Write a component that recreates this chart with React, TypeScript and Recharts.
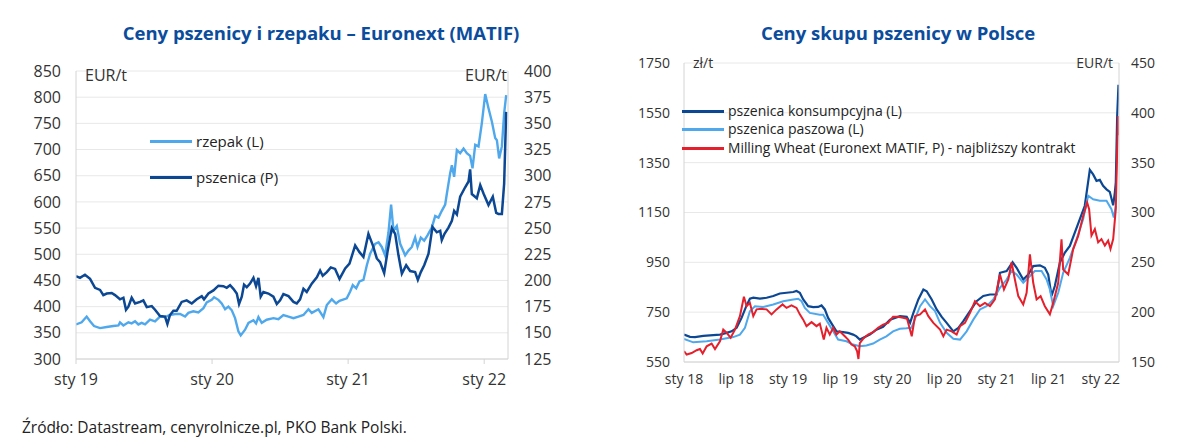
import { LineChart, Line, XAxis, YAxis, CartesianGrid } from "recharts";

const FONT = '"Open Sans", "DejaVu Sans", sans-serif';
const NAVY = "#0c4793";
const SKY = "#4fa8ec";
const RED = "#e3202c";
const TITLE = "#0b4c9c";
const GRID = "#e8e8e8";
const AXIS = "#d4d4d4";
const TXT = "#333";

// ---- Ceny pszenicy i rzepaku (months since sty 19) ----
const euroTicksX = [0, 12, 24, 36];
const euroTickLabels = ["sty 19", "sty 20", "sty 21", "sty 22"];
const rzepakAxis = [300, 350, 400, 450, 500, 550, 600, 650, 700, 750, 800, 850];
const pszenicaAxis = [125, 150, 175, 200, 225, 250, 275, 300, 325, 350, 375, 400];

const rzepakT = [
  0, 0.5, 0.94, 1.24, 1.59, 2.12, 2.71, 3.29, 3.74, 3.88, 4.18, 4.62, 4.91, 5.21, 5.5, 5.79, 6.09, 6.53,
  6.97, 7.41, 7.85, 8.29, 8.74, 9.18, 9.62, 9.91, 10.35, 10.79, 11.24, 11.53, 11.97, 12.18, 12.56, 12.85,
  13.15, 13.44, 13.74, 14.03, 14.32, 14.53, 14.91, 15.21, 15.65, 15.88, 16.09, 16.38, 16.82, 17.41, 17.85,
  18.29, 18.74, 19.18, 19.62, 20.06, 20.5, 20.79, 21.38, 21.82, 22.12, 22.56, 22.94, 23.24, 23.88, 24.18,
  24.41, 24.71, 25.0, 25.35, 25.65, 25.94, 26.38, 26.68, 26.97, 27.26, 27.56, 27.79, 28.0, 28.29, 28.59,
  29.03, 29.32, 29.62, 29.91, 30.12, 30.41, 30.71, 31.0, 31.38, 31.68, 31.97, 32.26, 32.56, 32.71, 33.0,
  33.15, 33.35, 33.59, 33.88, 34.18, 34.47, 34.76, 34.97, 35.21, 35.5, 35.79, 36.09, 36.38, 36.68, 36.97,
  37.12, 37.32, 37.56, 37.76, 37.94,
];
const rzepakV = [
  366, 370, 381, 372, 363, 359, 361, 363, 364, 370, 364, 370, 368, 372, 366, 369, 366, 375,
  372, 381, 380, 384, 386, 386, 381, 388, 391, 389, 397, 408, 413, 418, 413, 406,
  395, 400, 393, 378, 353, 345, 356, 369, 374, 368, 380, 369, 375, 378, 376,
  384, 381, 378, 381, 384, 395, 388, 395, 380, 403, 414, 406, 411, 416, 429,
  441, 435, 448, 451, 479, 501, 520, 523, 514, 498, 542, 595, 545, 554, 520,
  498, 507, 514, 532, 514, 532, 526, 536, 551, 573, 570, 583, 595, 616, 655,
  670, 648, 699, 693, 702, 693, 688, 664, 709, 706, 750, 806, 779, 753, 722,
  718, 683, 706, 769, 804,
];

const pszenicaT = [
  0, 0.35, 0.79, 1.24, 1.68, 2.12, 2.41, 2.71, 3.15, 3.44, 3.88, 4.18, 4.41, 4.62, 4.91, 5.21, 5.65, 5.94,
  6.24, 6.68, 6.97, 7.41, 7.85, 8.06, 8.29, 8.59, 8.88, 9.32, 9.76, 10.21, 10.65, 11.09, 11.29, 11.68,
  12.12, 12.56, 13.0, 13.29, 13.59, 13.88, 14.18, 14.38, 14.62, 14.82, 15.06, 15.35, 15.65, 15.88, 16.09,
  16.29, 16.53, 16.97, 17.41, 17.71, 18.0, 18.29, 18.74, 19.18, 19.47, 19.76, 20.06, 20.35, 20.79, 21.24,
  21.53, 21.76, 22.12, 22.47, 22.85, 23.24, 23.74, 24.12, 24.62, 25.0, 25.35, 25.79, 26.18, 26.53, 26.82,
  27.18, 27.47, 27.85, 28.15, 28.44, 28.74, 29.12, 29.47, 29.91, 30.15, 30.41, 30.71, 31.09, 31.44, 31.82,
  32.12, 32.26, 32.5, 32.85, 33.15, 33.35, 33.59, 33.88, 34.32, 34.62, 34.76, 34.91, 35.35, 35.65, 35.94,
  36.38, 36.76, 37.06, 37.26, 37.56, 37.76, 37.94,
];
const pszenicaV = [
  204, 202.5, 205.5, 201.5, 193, 191, 186, 187.5, 188, 186, 182, 183.5, 172, 175, 183.5, 178, 179.5, 181,
  174.5, 175.5, 172, 166, 165.5, 158.5, 167, 171, 171, 179.5, 181, 178, 182, 185, 182, 187.5,
  190.5, 195, 194.5, 193, 195.5, 192, 187.5, 177.5, 184.5, 196, 193.5, 197, 202.5, 194.5, 202.5,
  184.5, 189, 187.5, 184.5, 177.5, 181, 187, 185, 179.5, 178, 182, 192, 189, 197, 203,
  209.5, 204.5, 208, 212.5, 211, 201.5, 211.5, 216, 233.5, 227, 222.5, 244.5, 233.5, 221, 217.5,
  207, 227, 250, 244.5, 224, 206.5, 214.5, 209, 208, 200.5, 208, 214.5, 225.5, 251, 246,
  247.5, 238.5, 244.5, 250.5, 257, 266.5, 263, 280, 289, 294.5, 306, 282.5, 278.5, 291, 283,
  272, 280, 264.5, 263.5, 263.5, 292.5, 361,
];

// ---- Ceny skupu pszenicy w Polsce (months since sty 18) ----
const plTicksX = [0, 6, 12, 18, 24, 30, 36, 42, 48];
const plTickLabels = ["sty 18", "lip 18", "sty 19", "lip 19", "sty 20", "lip 20", "sty 21", "lip 21", "sty 22"];
const zlAxis = [550, 750, 950, 1150, 1350, 1550, 1750];
const eurAxis = [150, 200, 250, 300, 350, 400, 450];

const konsT = [
  0, 0.69, 1.27, 2.22, 3.37, 4.14, 4.91, 5.48, 6.06, 6.63, 7.21, 7.59, 7.98, 8.74, 9.51, 10.28, 11.04, 11.81,
  12.58, 12.96, 13.34, 13.73, 14.3, 14.88, 15.45, 15.84, 16.22, 16.6, 17.18, 17.56, 18.33, 18.9, 19.48, 19.86,
  20.25, 20.82, 21.4, 22.16, 22.93, 23.73, 24.88, 25.65, 26.04, 26.42, 26.99, 27.57, 27.95, 28.53, 29.1,
  29.68, 30.25, 31.02, 31.6, 32.17, 32.94, 33.7, 34.47, 35.24, 36.0, 36.39, 37.16, 37.84, 38.31, 39.07,
  39.65, 40.22, 40.99, 41.56, 41.95, 42.33, 42.71, 43.29, 43.87, 44.44, 45.02, 45.59, 46.16, 46.74, 47.12,
  47.51, 47.89, 48.27, 48.66, 49.04, 49.43, 49.62, 49.73, 49.89, 50.04,
];
const konsV = [
  660, 651, 650, 655, 658, 660, 667, 673, 687, 727, 777, 804, 808, 804, 808, 815, 825, 828,
  831, 835, 828, 801, 774, 770, 771, 777, 761, 727, 694, 673, 670, 667, 660, 653,
  640, 650, 660, 680, 691, 720, 734, 731, 707, 747, 801, 841, 834, 801, 761,
  731, 707, 673, 687, 714, 754, 794, 815, 821, 821, 908, 915, 951, 928, 881,
  901, 935, 938, 928, 901, 815, 855, 949, 989, 1016, 1070, 1123, 1177, 1321, 1303,
  1277, 1281, 1257, 1243, 1233, 1179, 1230, 1270, 1537, 1663,
];

const paszT = [
  0, 1.07, 2.61, 4.14, 5.67, 6.44, 7.02, 7.59, 8.17, 9.13, 10.28, 11.43, 12.58, 13.15, 13.54, 13.92, 14.49,
  15.64, 16.03, 16.6, 17.18, 17.75, 18.71, 19.48, 20.25, 21.01, 21.78, 22.55, 23.31, 24.08, 24.85, 25.61,
  26.19, 26.42, 27.19, 27.76, 28.34, 28.91, 29.49, 30.25, 31.02, 31.79, 32.55, 33.32, 34.09, 34.85, 35.62,
  36.39, 37.16, 37.73, 38.31, 39.07, 39.65, 40.41, 41.18, 41.76, 42.14, 42.52, 43.1, 43.67, 44.44, 45.21,
  45.97, 46.55, 47.12, 47.89, 48.66, 49.23, 49.5, 49.73,
];
const paszV = [
  643, 629, 633, 640, 650, 660, 687, 754, 774, 771, 781, 794, 801, 804, 794, 767, 747,
  740, 740, 707, 673, 640, 633, 620, 613, 616, 624, 640, 653, 673, 683, 685,
  687, 707, 774, 801, 774, 754, 707, 667, 643, 640, 673, 720, 761, 774, 801,
  848, 881, 915, 901, 868, 888, 915, 915, 881, 841, 774, 828, 908, 968, 1042,
  1123, 1217, 1203, 1197, 1197, 1163, 1130, 1177,
];

const millT = [
  0, 0.31, 0.88, 1.46, 1.84, 2.15, 2.61, 3.18, 3.57, 4.14, 4.52, 4.91, 5.37, 5.87, 6.44, 6.9, 7.21, 7.59,
  7.98, 8.36, 8.93, 9.51, 10.08, 10.66, 11.35, 11.81, 12.38, 12.96, 13.34, 13.73, 14.11, 14.69, 15.26,
  15.64, 16.1, 16.41, 16.79, 17.18, 17.56, 17.94, 18.52, 18.9, 19.29, 19.67, 19.94, 20.09, 20.25, 20.63,
  21.2, 21.78, 22.35, 22.93, 23.5, 24.08, 24.65, 25.23, 25.69, 26.23, 26.61, 27.19, 27.76, 28.14, 28.72,
  29.49, 29.87, 30.25, 30.83, 31.4, 31.79, 32.36, 32.94, 33.51, 34.09, 34.66, 35.24, 35.81, 36.39, 36.85,
  37.35, 37.73, 38.11, 38.5, 39.07, 39.46, 39.84, 40.22, 40.61, 41.07, 41.56, 42.14, 42.52, 43.1, 43.48,
  43.67, 44.25, 44.82, 45.4, 45.97, 46.43, 46.66, 46.93, 47.32, 47.7, 48.08, 48.47, 48.85, 49.12, 49.43,
  49.73, 49.89, 50.0, 50.05,
];
const millV = [
  160.8, 157.5, 159, 161.8, 163, 158.5, 165.8, 168.5, 163, 170.8, 182.5, 179.3, 174.3, 182.5, 196, 215.5, 206, 209.3,
  196, 202.8, 203.3, 202.8, 197.8, 202.8, 207.8, 204.3, 206.8, 204.3, 197.8, 192.5, 186, 190, 186,
  188.5, 172.5, 184.3, 177.5, 184.3, 177.5, 180.8, 175.8, 172.5, 167.5, 165.8, 160.8, 153, 169, 173.3,
  177.5, 179.9, 184.3, 187.5, 189.3, 195.3, 195.3, 194.3, 193.3, 175.8, 196, 197.8, 202.8, 196, 189.3,
  182.5, 175.8, 182.5, 180.8, 177.5, 186, 189.3, 199.3, 211, 206, 209.3, 206, 212.8, 237.8, 222.8,
  232.8, 249.8, 232.8, 216.1, 207.8, 219.5, 258, 229.5, 212.8, 216.1, 206, 197.8, 209.3, 229.5, 273,
  242.8, 237.8, 263, 276.5, 296.5, 310, 303.3, 276.8, 283.3, 270, 273.3, 266.8, 271.8, 263.3, 273.3,
  303.3, 363.3, 396.8, 377.5,
];

const pairs = (ts: number[], vs: number[]) => ts.map((t, i) => ({ t, v: vs[i] }));

const rzepakData = pairs(rzepakT, rzepakV);
const pszenicaData = pairs(pszenicaT, pszenicaV);
const konsData = pairs(konsT, konsV);
const paszData = pairs(paszT, paszV);
const millData = pairs(millT, millV);

const abs = (left: number, top: number, extra: React.CSSProperties = {}): React.CSSProperties => ({
  position: "absolute",
  left,
  top,
  fontFamily: FONT,
  lineHeight: 1,
  whiteSpace: "nowrap",
  ...extra,
});

function LegendRow({ x, y, color, label, size }: { x: number; y: number; color: string; label: string; size: number }) {
  return (
    <div style={abs(x, y - 9, { display: "flex", alignItems: "center", height: 18, fontSize: size, color: "#222" })}>
      <div style={{ width: 42, height: 3, background: color, marginRight: 4 }} />
      <span>{label}</span>
    </div>
  );
}

export default function App() {
  const tickL = { fontSize: 16, fill: TXT, fontFamily: FONT };
  const tickR = { fontSize: 14, fill: TXT, fontFamily: FONT };
  return (
    <div style={{ position: "absolute", left: 0, top: 0, width: 1200, height: 441, background: "#fff", overflow: "hidden" }}>
      <div style={abs(0, 24, { width: 642, textAlign: "center", fontSize: 18.5, fontWeight: 700, color: TITLE })}>
        Ceny pszenicy i rzepaku – Euronext (MATIF)
      </div>
      <div style={abs(598, 24, { width: 600, textAlign: "center", fontSize: 18.5, fontWeight: 700, color: TITLE })}>
        Ceny skupu pszenicy w Polsce
      </div>

      <div style={{ position: "absolute", left: 0, top: 0 }}>
        <LineChart width={600} height={400} margin={{ top: 71, right: 32, bottom: 11, left: 16 }}>
          <CartesianGrid yAxisId="L" vertical={false} stroke={GRID} />
          <XAxis
            dataKey="t"
            type="number"
            domain={[0, 38.1]}
            ticks={euroTicksX}
            tickFormatter={(v) => euroTickLabels[euroTicksX.indexOf(v)]}
            stroke={AXIS}
            tick={tickL}
            tickSize={5}
            tickMargin={10}
            height={30}
            allowDataOverflow
          />
          <YAxis yAxisId="L" orientation="left" domain={[300, 850]} ticks={rzepakAxis} width={60}
            stroke={AXIS} tickLine={false} tickSize={0} tickMargin={15} tick={tickL} interval={0} />
          <YAxis yAxisId="R" orientation="right" domain={[125, 400]} ticks={pszenicaAxis} width={60}
            stroke={AXIS} tickLine={false} tickSize={0} tickMargin={16} tick={tickL} interval={0} />
          <Line yAxisId="L" data={rzepakData} dataKey="v" stroke={SKY} strokeWidth={2.4} dot={false} isAnimationActive={false} />
          <Line yAxisId="R" data={pszenicaData} dataKey="v" stroke={NAVY} strokeWidth={2.5} dot={false} isAnimationActive={false} />
        </LineChart>
      </div>

      <div style={{ position: "absolute", left: 600, top: 0 }}>
        <LineChart width={600} height={400} margin={{ top: 63, right: 21, bottom: 8, left: 24 }}>
          <CartesianGrid yAxisId="L" vertical={false} stroke={GRID} />
          <XAxis
            dataKey="t"
            type="number"
            domain={[0, 50.1]}
            ticks={plTicksX}
            tickFormatter={(v) => plTickLabels[plTicksX.indexOf(v)]}
            stroke={AXIS}
            tick={tickR}
            tickLine={false}
            tickSize={0}
            tickMargin={12}
            height={30}
            allowDataOverflow
          />
          <YAxis yAxisId="L" orientation="left" domain={[550, 1750]} ticks={zlAxis} width={60}
            stroke={AXIS} tickLine={false} tickSize={0} tickMargin={14} tick={tickR} interval={0} />
          <YAxis yAxisId="R" orientation="right" domain={[150, 450]} ticks={eurAxis} width={60}
            stroke={AXIS} tickLine={false} tickSize={0} tickMargin={12} tick={tickR} interval={0} />
          <Line yAxisId="L" data={konsData} dataKey="v" stroke={NAVY} strokeWidth={2.2} dot={false} isAnimationActive={false} />
          <Line yAxisId="L" data={paszData} dataKey="v" stroke={SKY} strokeWidth={2} dot={false} isAnimationActive={false} />
          <Line yAxisId="R" data={millData} dataKey="v" stroke={RED} strokeWidth={2} dot={false} isAnimationActive={false} />
        </LineChart>
      </div>

      <div style={abs(85, 67, { fontSize: 16, color: TXT })}>EUR/t</div>
      <div style={abs(400, 67, { width: 107, textAlign: "right", fontSize: 16, color: TXT })}>EUR/t</div>
      <div style={abs(693, 56, { fontSize: 14, color: TXT })}>zł/t</div>
      <div style={abs(1000, 56, { width: 113, textAlign: "right", fontSize: 14, color: TXT })}>EUR/t</div>

      <LegendRow x={150} y={141} color={SKY} label="rzepak (L)" size={15} />
      <LegendRow x={150} y={177} color={NAVY} label="pszenica (P)" size={15} />
      <LegendRow x={682} y={111} color={NAVY} label="pszenica konsumpcyjna (L)" size={14} />
      <LegendRow x={682} y={129} color={SKY} label="pszenica paszowa (L)" size={14} />
      <LegendRow x={682} y={148} color={RED} label="Milling Wheat (Euronext MATIF, P) - najbliższy kontrakt" size={13.8} />

      <div style={abs(22, 420, { fontSize: 15.5, color: "#222" })}>
        Źródło: Datastream, cenyrolnicze.pl, PKO Bank Polski.
      </div>
    </div>
  );
}
